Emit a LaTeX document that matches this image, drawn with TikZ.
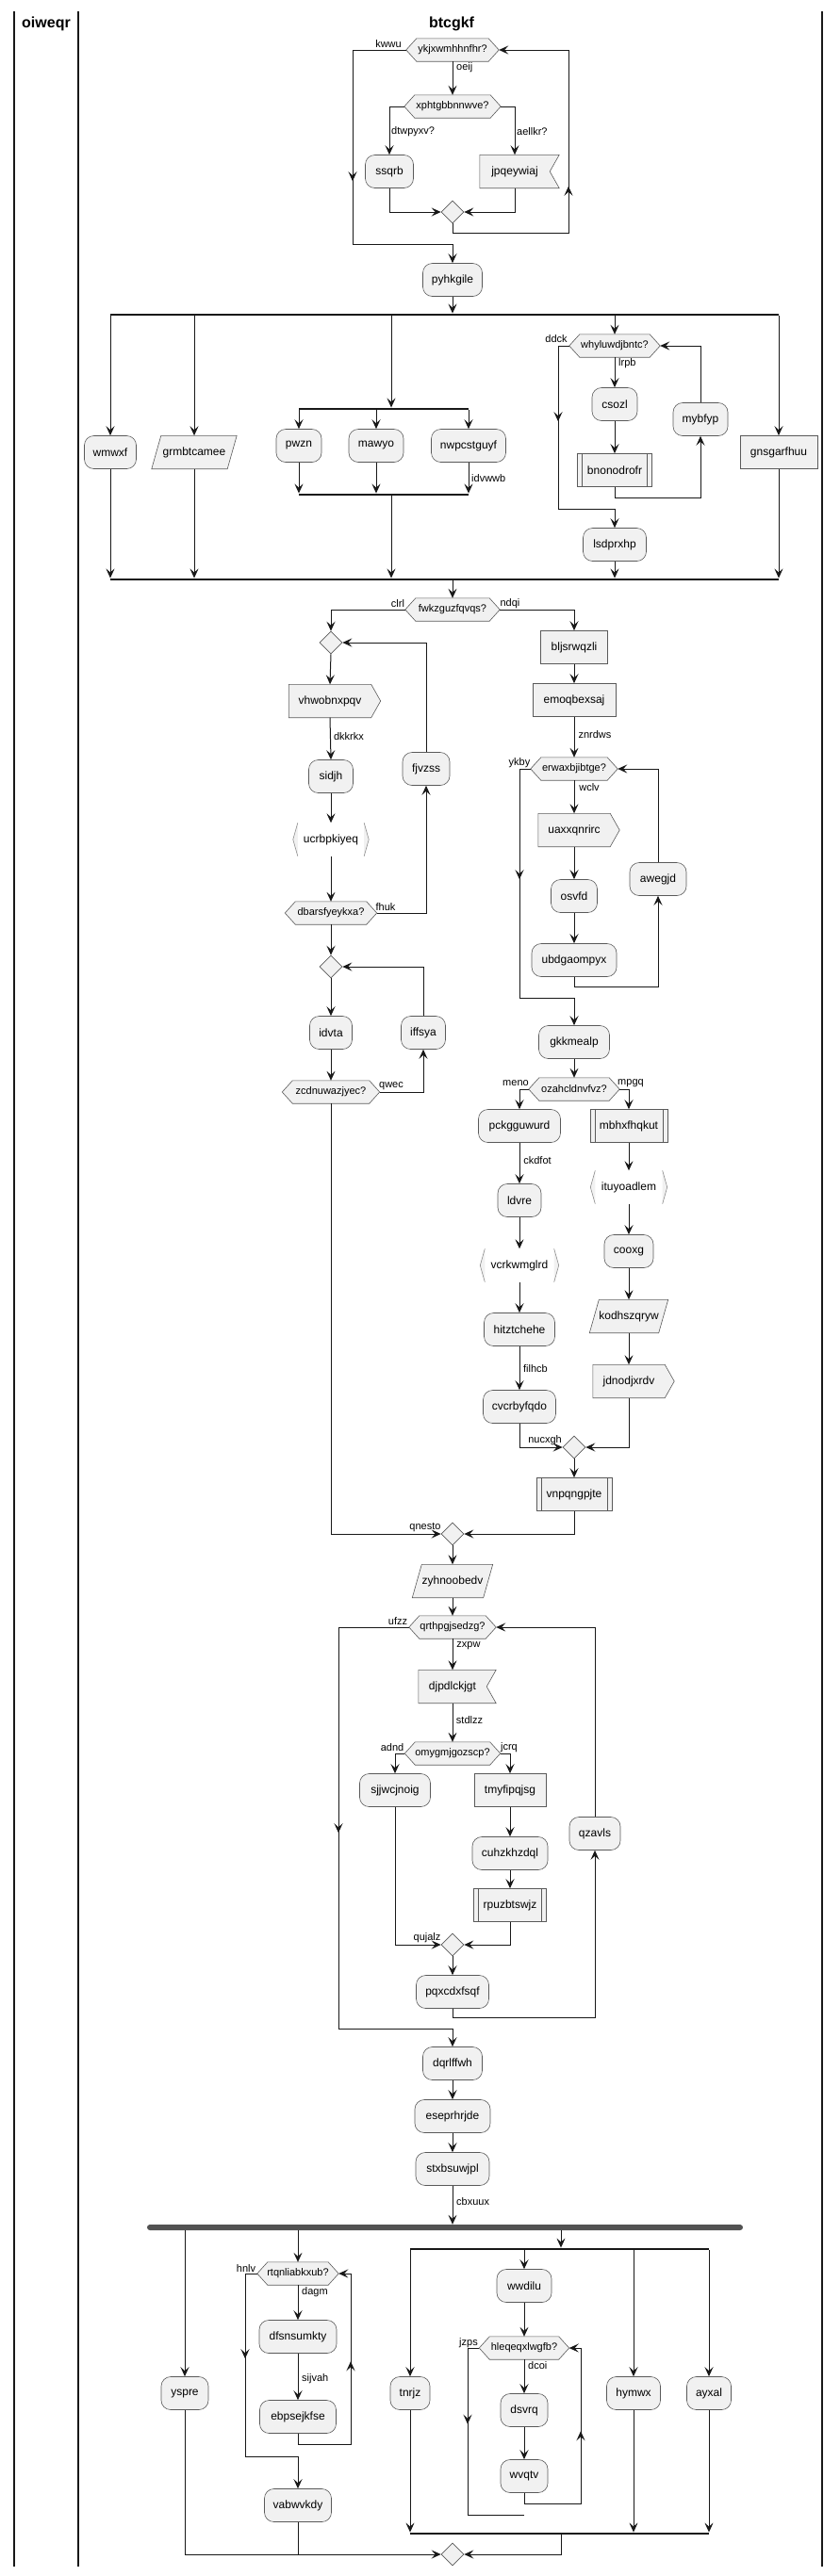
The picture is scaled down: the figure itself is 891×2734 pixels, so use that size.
\documentclass[tikz,border=0pt]{standalone}
\usepackage{fontspec}
\setmainfont{Liberation Sans}
\usetikzlibrary{shapes.geometric,arrows.meta,decorations.markings}
\definecolor{nf}{HTML}{F1F1F1}
\definecolor{nb}{HTML}{5A5A5A}
\definecolor{lc}{HTML}{181818}
\pgfdeclarelayer{bg}
\pgfsetlayers{bg,main}
\tikzset{
  nbase/.style={draw=nb, fill=nf, line width=0.6pt, inner sep=0pt, font=\fontsize{12}{14}\selectfont, minimum height=35pt},
  act/.style={nbase, rectangle, rounded corners=10pt, minimum width=#1},
  box/.style={nbase, rectangle, minimum width=#1},
  sub/.style={box=#1, path picture={\draw[nb, line width=0.6pt] ([xshift=5pt]path picture bounding box.north west) -- ([xshift=5pt]path picture bounding box.south west) ([xshift=-5pt]path picture bounding box.north east) -- ([xshift=-5pt]path picture bounding box.south east);}},
  ghost/.style={inner sep=0pt, font=\fontsize{12}{14}\selectfont, minimum height=35pt, minimum width=#1},
  hx/.style={inner sep=0pt, font=\fontsize{11}{13}\selectfont, minimum height=24pt, minimum width=#1},
  shp/.style={draw=nb, fill=nf, line width=0.6pt},
  dia/.style={diamond, draw=nb, fill=nf, line width=0.6pt, minimum width=24pt, minimum height=24pt, inner sep=0pt},
  lbl/.style={font=\fontsize{11}{13}\selectfont, inner sep=0pt},
  ln/.style={draw=lc, line width=1pt},
  arr/.style={ln, -{Stealth[length=10pt,width=9pt,inset=4pt]}},
  midarr/.style={postaction={decorate}, decoration={markings, mark=at position #1 with {\arrow{Stealth[length=10pt,width=9pt,inset=4pt]}}}},
  sbar/.style={fill=lc, inner sep=0pt, minimum height=2.5pt, minimum width=#1},
  fbar/.style={fill=black!68, inner sep=0pt, minimum height=6pt, minimum width=#1, rounded corners=3pt},
  lane/.style={draw=lc, line width=1.2pt},
  lanetitle/.style={font=\fontsize{16}{18}\selectfont\bfseries},
}
\newcommand\HexN[5]{%
  \node[hx=2*#4] (#1) at (#2,#3) {#5};
  \begin{pgfonlayer}{bg}
  \draw[shp] (#1.west) -- ([xshift=11pt]#1.north west) -- ([xshift=-11pt]#1.north east) -- (#1.east) -- ([xshift=-11pt]#1.south east) -- ([xshift=11pt]#1.south west) -- cycle;
  \end{pgfonlayer}}
\newcommand\ParaN[5]{%
  \node[ghost=#4] (#1) at (#2,#3) {#5};
  \begin{pgfonlayer}{bg}
  \draw[shp] ([xshift=5pt]#1.north west) -- ([xshift=5pt]#1.north east) -- ([xshift=-5pt]#1.south east) -- ([xshift=-5pt]#1.south west) -- cycle;
  \end{pgfonlayer}}
\newcommand\PentaN[5]{%
  \node[ghost=#4] (#1) at (#2,#3) {#5};
  \begin{pgfonlayer}{bg}
  \draw[shp] (#1.north west) -- (#1.north east) -- ([xshift=10pt]#1.east) -- (#1.south east) -- (#1.south west) -- cycle;
  \end{pgfonlayer}}
\newcommand\NotchN[5]{%
  \node[ghost=#4] (#1) at (#2,#3) {#5};
  \begin{pgfonlayer}{bg}
  \draw[shp] (#1.north west) -- ([xshift=10pt]#1.north east) -- (#1.east) -- ([xshift=10pt]#1.south east) -- (#1.south west) -- cycle;
  \end{pgfonlayer}}
\newcommand\BrakN[5]{%
  \node[ghost=#4] (#1) at (#2,#3) {#5};
  \begin{pgfonlayer}{bg}
  \fill[nf] ([xshift=5pt]#1.north west) -- (#1.west) -- ([xshift=5pt]#1.south west) -- cycle ([xshift=-5pt]#1.north east) -- (#1.east) -- ([xshift=-5pt]#1.south east) -- cycle;
  \draw[draw=black!45, line width=0.6pt] ([xshift=5pt]#1.north west) -- (#1.west) -- ([xshift=5pt]#1.south west) ([xshift=-5pt]#1.north east) -- (#1.east) -- ([xshift=-5pt]#1.south east);
  \end{pgfonlayer}}
\begin{document}
\begin{tikzpicture}[x=1pt,y=-1pt]
\useasboundingbox (0,0) rectangle (891,2734);
% swimlanes
\draw[lane] (15,12) -- (15,2724);
\draw[lane] (83,12) -- (83,2724);
\draw[lane] (872,12) -- (872,2724);
\node[lanetitle] (t1) at (49,25) {oiweqr};
\node[lanetitle] (t2) at (479,25) {btcgkf};
% ---------- top loop
\HexN{h1}{480}{53}{49}{ykjxwmhhnfhr?}
\HexN{h2}{480}{113}{51}{xphtgbbnnwve?}
\node[act=51] (ssqrb) at (413,182) {ssqrb};
\NotchN{jpq}{546}{182}{74}{jpqeywiaj}
\node[dia] (m1) at (480,225) {};
\node[act=63] (pyh) at (480,297) {pyhkgile};
\draw[arr] (h1.south) -- (h2.north);
\node[lbl, anchor=west] at (484,72) {oeij};
\draw[arr] (h2.west) -| (ssqrb.north);
\draw[arr] (h2.east) -| (jpq.north);
\node[lbl, anchor=west] at (415,140) {dtwpyxv?};
\node[lbl, anchor=west] at (548,140) {aellkr?};
\draw[arr] (ssqrb.south) |- (m1.west);
\draw[arr] (jpq.south) |- (m1.east);
\draw[arr, midarr=182pt] (m1.south) -- (480,247) -- (603,247) -- (603,53) -- (h1.east);
\draw[arr, midarr=196pt] (h1.west) -- (374,53) -- (374,259) -- (480,259) -- (pyh.north);
\node[lbl] at (412,47) {kwwu};
% ---------- first split
\node[sbar=709] (b1) at (471.5,334) {};
\draw[arr] (pyh.south) -- (pyh.south |- b1.north);
\coordinate (mx) at (415,0);
\node[act=55] (wmwxf) at (117,480) {wmwxf};
\ParaN{grm}{206}{480}{80}{grmbtcamee}
\node[sbar=180] (b2) at (407,434) {};
\node[act=48] (pwzn) at (317,473) {pwzn};
\node[act=58] (mawyo) at (399,473) {mawyo};
\node[act=79] (nwp) at (497,473) {nwpcstguyf};
\node[sbar=180] (b3) at (407,525) {};
\HexN{why}{652}{367}{48}{whyluwdjbntc?}
\node[act=48] (csozl) at (652,429) {csozl};
\node[sub=79] (bno) at (652,499) {bnonodrofr};
\node[act=58] (myb) at (743,445) {mybfyp};
\node[act=67] (lsd) at (652,578) {lsdprxhp};
\node[box=82] (gns) at (826,480) {gnsgarfhuu};
\node[sbar=709] (b4) at (471.5,615) {};
\draw[arr] (b1.south -| wmwxf.north) -- (wmwxf.north);
\draw[arr] (b1.south -| grm.north) -- (grm.north);
\draw[arr] (b1.south -| mx) -- (b2.north -| mx);
\draw[arr] (b2.south -| pwzn.north) -- (pwzn.north);
\draw[arr] (b2.south -| mawyo.north) -- (mawyo.north);
\draw[arr] (b2.south -| nwp.north) -- (nwp.north);
\draw[arr] (pwzn.south) -- (pwzn.south |- b3.north);
\draw[arr] (mawyo.south) -- (mawyo.south |- b3.north);
\draw[arr] (nwp.south) -- (nwp.south |- b3.north);
\node[lbl, anchor=west] at (500,508) {idvwwb};
\draw[arr] (b3.south -| mx) -- (b4.north -| mx);
\draw[arr] (b1.south -| why.north) -- (why.north);
\draw[arr, midarr=92pt] (why.west) -- (592,367) -- (592,540) -- (652,540) -- (lsd.north);
\node[lbl] at (590,360) {ddck};
\draw[arr] (why.south) -- (csozl.north);
\node[lbl, anchor=west] at (656,386) {lrpb};
\draw[arr] (csozl.south) -- (bno.north);
\draw[arr] (bno.south) -- (652,528) -- (743,528) -- (myb.south);
\draw[arr] (myb.north) -- (743,367) -- (why.east);
\draw[arr] (lsd.south) -- (lsd.south |- b4.north);
\draw[arr] (b1.south -| gns.north) -- (gns.north);
\draw[arr] (gns.south) -- (gns.south |- b4.north);
\draw[arr] (wmwxf.south) -- (wmwxf.south |- b4.north);
\draw[arr] (grm.south) -- (grm.south |- b4.north);
% ---------- big if
\HexN{fwk}{480}{647}{50}{fwkzguzfqvqs?}
\draw[arr] (b4.south -| fwk.north) -- (fwk.north);
\node[lbl] at (422,641) {clrl};
\node[lbl] at (541,641) {ndqi};
% left column
\node[dia] (dL1) at (351,682) {};
\PentaN{vhw}{350}{744}{87}{vhwobnxpqv}
\node[act=47] (sidjh) at (351,824) {sidjh};
\BrakN{ucr}{351}{891}{80}{ucrbpkiyeq}
\HexN{dba}{351}{969}{48.5}{dbarsfyeykxa?}
\node[act=50] (fjv) at (452,816) {fjvzss};
\node[dia] (dL2) at (351,1026) {};
\node[act=45] (idvta) at (351,1096) {idvta};
\HexN{zcd}{351}{1159}{51.5}{zcdnuwazjyec?}
\node[act=47] (iff) at (449,1096) {iffsya};
\draw[arr] (fwk.west) -| (dL1.north);
\draw[arr] (dL1.south) -- (vhw.north);
\draw[arr] (vhw.south) -- (sidjh.north);
\node[lbl] at (370,782) {dkkrkx};
\draw[arr] (sidjh.south) -- (ucr.north);
\draw[arr] (ucr.south) -- (dba.north);
\draw[arr] (dba.east) -| (fjv.south);
\node[lbl] at (409,963) {fhuk};
\draw[arr] (fjv.north) |- (dL1.east);
\draw[arr] (dba.south) -- (dL2.north);
\draw[arr] (dL2.south) -- (idvta.north);
\draw[arr] (idvta.south) -- (zcd.north);
\draw[arr] (zcd.east) -| (iff.south);
\node[lbl] at (415,1153) {qwec};
\draw[arr] (iff.north) |- (dL2.east);
% right column
\node[box=71] (blj) at (609,687) {bljsrwqzli};
\node[box=88] (emo) at (609,743) {emoqbexsaj};
\HexN{erw}{609}{816}{46}{erwaxbjibtge?}
\PentaN{uax}{609}{881}{76}{uaxxqnrirc}
\node[act=49] (osv) at (609,951) {osvfd};
\node[act=90] (ubd) at (609,1019) {ubdgaompyx};
\node[act=60] (awe) at (698,933) {awegjd};
\node[act=75] (gkk) at (609,1106) {gkkmealp};
\HexN{oza}{609}{1156}{48}{ozahcldnvfvz?}
\draw[arr] (fwk.east) -| (blj.north);
\draw[arr] (blj.south) -- (emo.north);
\draw[arr] (emo.south) -- (erw.north);
\node[lbl] at (631,780) {znrdws};
\node[lbl] at (551,810) {ykby};
\draw[arr] (erw.south) -- (uax.north);
\node[lbl] at (625,836) {wclv};
\draw[arr] (uax.south) -- (osv.north);
\draw[arr] (osv.south) -- (ubd.north);
\draw[arr] (ubd.south) -- (609,1047) -- (698,1047) -- (awe.south);
\draw[arr] (awe.north) |- (erw.east);
\draw[arr, midarr=129pt] (erw.west) -- (551,816) -- (551,1059) -- (609,1059) -- (gkk.north);
\draw[arr] (gkk.south) -- (oza.north);
\node[lbl] at (547,1150) {meno};
\node[lbl] at (669,1150) {mpgq};
\node[act=87] (pck) at (551,1195) {pckgguwurd};
\node[sub=82] (mbh) at (667,1195) {mbhxfhqkut};
\draw[arr] (oza.west) -| (pck.north);
\draw[arr] (oza.east) -| (mbh.north);
\node[act=46] (ldv) at (551,1274) {ldvre};
\BrakN{vcr}{551}{1343}{83}{vcrkwmglrd}
\node[act=75] (hit) at (551,1411) {hitztchehe};
\node[act=77] (cvc) at (551,1493) {cvcrbyfqdo};
\draw[arr] (pck.south) -- (ldv.north);
\node[lbl] at (570,1232) {ckdfot};
\draw[arr] (ldv.south) -- (vcr.north);
\draw[arr] (vcr.south) -- (hit.north);
\draw[arr] (hit.south) -- (cvc.north);
\node[lbl] at (568,1453) {filhcb};
\BrakN{itu}{667}{1260}{81}{ituyoadlem}
\node[act=52] (coo) at (667,1328) {cooxg};
\ParaN{kod}{667}{1397}{73}{kodhszqryw}
\PentaN{jdn}{667}{1466}{76}{jdnodjxrdv}
\draw[arr] (mbh.south) -- (itu.north);
\draw[arr] (itu.south) -- (coo.north);
\draw[arr] (coo.south) -- (kod.north);
\draw[arr] (kod.south) -- (jdn.north);
\node[dia] (dR) at (609,1536) {};
\draw[arr] (cvc.south) |- (dR.west);
\node[lbl] at (578,1529) {nucxgh};
\draw[arr] (jdn.south) |- (dR.east);
\node[sub=80] (vnp) at (609,1586) {vnpqngpjte};
\draw[arr] (dR.south) -- (vnp.north);
\node[dia] (dM) at (480,1628) {};
\draw[arr] (vnp.south) |- (dM.east);
\draw[arr] (zcd.south) |- (dM.west);
\node[lbl] at (451,1621) {qnesto};
% ---------- repeat loop
\ParaN{zyh}{480}{1678}{75}{zyhnoobedv}
\draw[arr] (dM.south) -- (zyh.north);
\HexN{qrt}{480}{1727}{46}{qrthpgjsedzg?}
\draw[arr] (zyh.south) -- (qrt.north);
\node[lbl] at (422,1721) {ufzz};
\node[lbl] at (497,1747) {zxpw};
\NotchN{djp}{480}{1790}{72}{djpdlckjgt}
\draw[arr] (qrt.south) -- (djp.north);
\node[lbl] at (498,1826) {stdlzz};
\HexN{omy}{480}{1861}{50.5}{omygmjgozscp?}
\draw[arr] (djp.south) -- (omy.north);
\node[lbl] at (416,1855) {adnd};
\node[lbl] at (540,1855) {jcrq};
\node[act=75] (sjj) at (419,1900) {sjjwcjnoig};
\node[box=76] (tmy) at (541,1900) {tmyfipqjsg};
\node[act=80] (cuh) at (541,1967) {cuhzkhzdql};
\node[sub=77] (rpu) at (541,2022) {rpuzbtswjz};
\draw[arr] (omy.west) -| (sjj.north);
\draw[arr] (omy.east) -| (tmy.north);
\draw[arr] (tmy.south) -- (cuh.north);
\draw[arr] (cuh.south) -- (rpu.north);
\node[dia] (dQ) at (480,2064) {};
\draw[arr] (sjj.south) |- (dQ.west);
\draw[arr] (rpu.south) |- (dQ.east);
\node[lbl] at (453,2057) {qujalz};
\node[act=77] (pqx) at (480,2114) {pqxcdxfsqf};
\draw[arr] (dQ.south) -- (pqx.north);
\node[act=54] (qza) at (631,1946) {qzavls};
\draw[arr] (pqx.south) -- (480,2141) -- (631,2141) -- (qza.south);
\draw[arr] (qza.north) |- (qrt.east);
\node[act=63] (dqr) at (480,2190) {dqrlffwh};
\draw[arr, midarr=293pt] (qrt.west) -- (359,1727) -- (359,2153) -- (480,2153) -- (dqr.north);
\node[act=80] (ese) at (480,2246) {eseprhrjde};
\node[act=78] (stx) at (480,2302) {stxbsuwjpl};
\draw[arr] (dqr.south) -- (ese.north);
\draw[arr] (ese.south) -- (stx.north);
% ---------- fork
\node[fbar=632] (fb) at (472,2364) {};
\draw[arr] (stx.south) -- (stx.south |- fb.north);
\node[lbl, anchor=west] at (484,2337) {cbxuux};
\node[act=50] (ysp) at (196,2540) {yspre};
\draw[arr] (fb.south -| ysp.north) -- (ysp.north);
\HexN{rtq}{316}{2413}{43}{rtqnliabkxub?}
\draw[arr] (fb.south -| rtq.north) -- (rtq.north);
\node[act=82] (dfs) at (316,2480) {dfsnsumkty};
\node[act=81] (ebp) at (316,2565) {ebpsejkfse};
\node[act=71] (vab) at (316,2659) {vabwvkdy};
\draw[arr] (rtq.south) -- (dfs.north);
\draw[arr] (dfs.south) -- (ebp.north);
\draw[arr, midarr=155pt] (ebp.south) -- (316,2594) -- (372,2594) -- (372,2413) -- (rtq.east);
\draw[arr, midarr=103pt] (rtq.west) -- (260,2413) -- (260,2607) -- (316,2607) -- (vab.north);
\node[lbl] at (261,2407) {hnlv};
\node[lbl, anchor=west] at (320,2433) {dagm};
\node[lbl, anchor=west] at (320,2525) {sijvah};
\coordinate (sx) at (595,0);
\node[sbar=317] (s2) at (593.5,2387) {};
\draw[arr] (fb.south -| sx) -- (s2.north -| sx);
\node[act=42] (tnr) at (435,2540) {tnrjz};
\node[act=58] (wwd) at (556,2426) {wwdilu};
\HexN{hle}{556}{2492}{47.5}{hleqeqxlwgfb?}
\node[act=50] (dsv) at (556,2558) {dsvrq};
\node[act=50] (wvq) at (556,2628) {wvqtv};
\node[act=57] (hym) at (672,2540) {hymwx};
\node[act=47] (ayx) at (752,2540) {ayxal};
\node[sbar=317] (s3) at (593.5,2689) {};
\draw[arr] (s2.south -| tnr.north) -- (tnr.north);
\draw[arr] (s2.south -| wwd.north) -- (wwd.north);
\draw[arr] (s2.south -| hym.north) -- (hym.north);
\draw[arr] (s2.south -| ayx.north) -- (ayx.north);
\draw[arr] (wwd.south) -- (hle.north);
\draw[arr] (hle.south) -- (dsv.north);
\node[lbl] at (497,2487) {jzps};
\node[lbl, anchor=west] at (560,2511) {dcoi};
\draw[arr] (dsv.south) -- (wvq.north);
\draw[arr, midarr=148pt] (wvq.south) -- (556,2657) -- (616,2657) -- (616,2492) -- (hle.east);
\coordinate (hend) at (556,2669);
\draw[ln, midarr=93pt] (hle.west) -- (496,2492) -- (496,2669) -- (hend);
\draw[arr] (tnr.south) -- (tnr.south |- s3.north);
\draw[arr] (hym.south) -- (hym.south |- s3.north);
\draw[arr] (ayx.south) -- (ayx.south |- s3.north);
\node[dia] (dF) at (480,2711) {};
\draw[arr] (s3.south -| sx) |- (dF.east);
\draw[arr] (ysp.south) |- (dF.west);
\draw[ln] (vab.south) -- (vab.south |- dF.west);
\end{tikzpicture}
\end{document}
